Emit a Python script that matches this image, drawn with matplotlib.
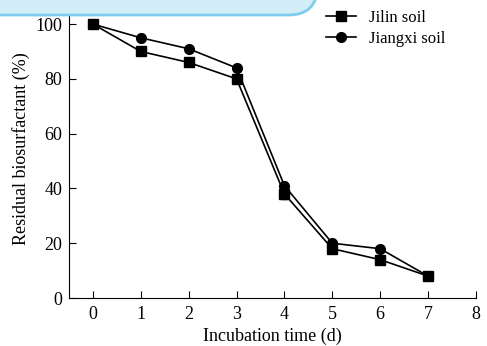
import matplotlib.pyplot as plt
from matplotlib.lines import Line2D
from matplotlib.patches import FancyBboxPatch

plt.rcParams['font.family'] = ['Liberation Serif', 'DejaVu Serif']

# data
days = [0, 1, 2, 3, 4, 5, 6, 7]
jilin = [100, 90, 86, 80, 38, 18, 14, 8]
jilin_err = [0.8, 0.8, 0.8, 1.5, 1.8, 1.0, 0.8, 0.8]
jiangxi = [100, 95, 91, 84, 41, 20, 18, 8]
jiangxi_err = [0.8, 1.5, 0.8, 0.8, 1.5, 0.8, 0.8, 0.8]

fig = plt.figure(figsize=(4.87, 3.46), dpi=100)
ax = fig.add_axes([0.1417, 0.1387, 0.8355, 0.8613])

ax.errorbar(days, jilin, yerr=jilin_err, color='black', marker='s', ms=6.5,
            lw=1.2, capsize=2, elinewidth=0.8)
ax.errorbar(days, jiangxi, yerr=jiangxi_err, color='black', marker='o', ms=7,
            lw=1.2, capsize=2, elinewidth=0.8)

ax.set_xlim(-0.5, 8)
ax.set_ylim(0, 108.8)
ax.set_xticks(range(0, 9))
ax.set_yticks(range(0, 101, 20))
ax.spines['top'].set_visible(False)
ax.spines['right'].set_visible(False)
ax.tick_params(direction='in', length=5, width=0.8, labelsize=13, pad=5)
ax.tick_params(axis='x', pad=6)
ax.set_xlabel('Incubation time (d)', fontsize=13, labelpad=3)
ax.set_ylabel('Residual biosurfactant (%)', fontsize=13, labelpad=4)

handles = [Line2D([], [], color='black', marker='s', ms=6.5, lw=1.2),
           Line2D([], [], color='black', marker='o', ms=7, lw=1.2)]
ax.legend(handles, ['Jilin soil', 'Jiangxi soil'], loc='upper left',
          bbox_to_anchor=(0.607, 1.0), frameon=False, fontsize=12,
          handlelength=1.8, handletextpad=0.8, labelspacing=0.3,
          borderaxespad=0.2)

# the light blue overlay box at the top left
box = FancyBboxPatch((-0.1, 0.9566), 0.752, 0.2,
                     boxstyle='round,pad=0,rounding_size=0.06',
                     transform=fig.transFigure, facecolor='#d4eef9',
                     edgecolor='#7fcdee', lw=2, zorder=10, clip_on=False,
                     mutation_aspect=487 / 346)
fig.patches.append(box)

fig.savefig('out.png', dpi=100)
